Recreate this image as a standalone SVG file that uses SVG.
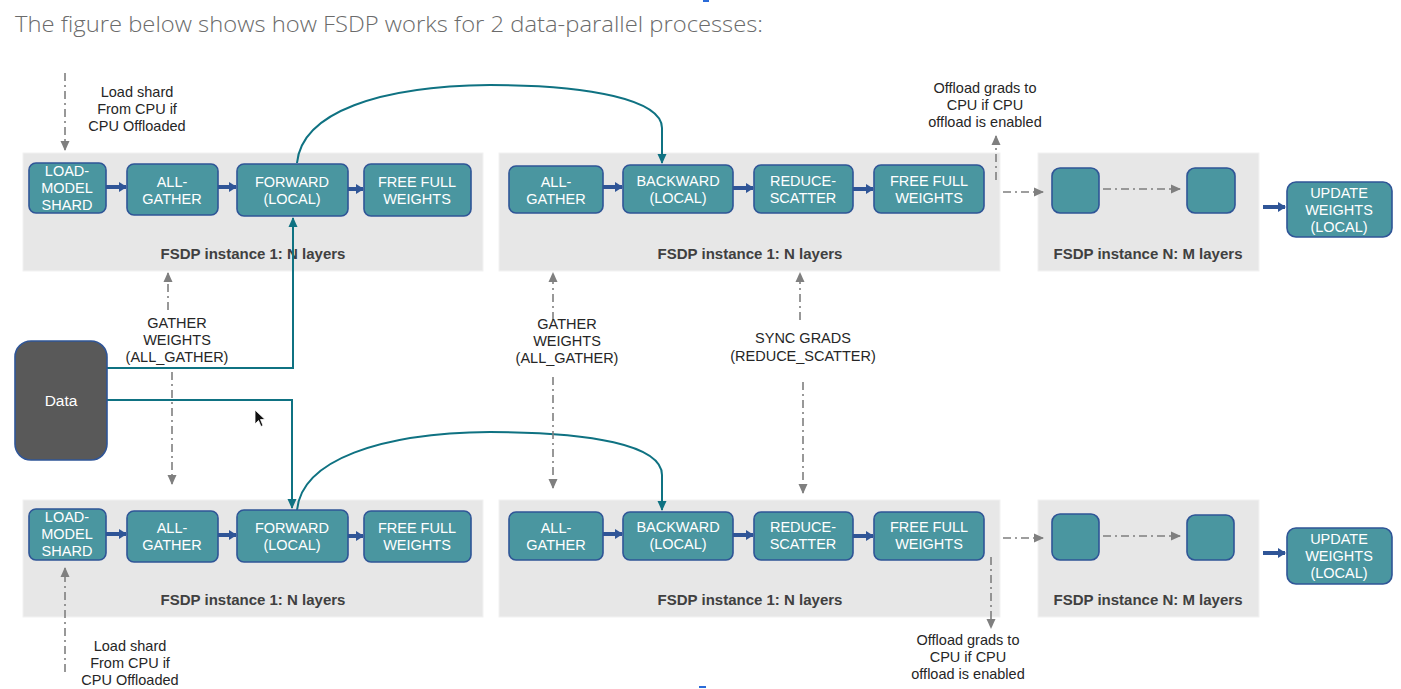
<svg xmlns="http://www.w3.org/2000/svg" width="1401" height="689" viewBox="0 0 1401 689">
<style>
.panel{fill:#e7e7e7;stroke:#f2f2f2;stroke-width:1}
.node rect{fill:#4a96a0;stroke:#2f5597;stroke-width:1.6}
.nt{font-family:"Liberation Sans",Arial,sans-serif;font-size:14.5px;fill:#ffffff;text-anchor:middle}
.pl{font-family:"Liberation Sans",Arial,sans-serif;font-size:15px;font-weight:bold;fill:#404040;text-anchor:middle}
.lbl{font-family:"Liberation Sans",Arial,sans-serif;font-size:14.5px;fill:#262626;text-anchor:middle}
.flow{stroke:#2f5597;stroke-width:4;fill:none}
.dd{stroke:#7f7f7f;stroke-width:1.6;fill:none;stroke-dasharray:8 4 2 4}
.teal{stroke:#0f7282;stroke-width:2;fill:none}
</style>
<defs>
<marker id="ab" markerUnits="userSpaceOnUse" markerWidth="10" markerHeight="12" refX="7" refY="6" orient="auto"><path d="M0,1 L8,6 L0,11 z" fill="#2f5597"/></marker>
<marker id="ag" markerUnits="userSpaceOnUse" markerWidth="10" markerHeight="10" refX="9" refY="5" orient="auto"><path d="M0,0.5 L10,5 L0,9.5 z" fill="#7f7f7f"/></marker>
<marker id="at" markerUnits="userSpaceOnUse" markerWidth="10" markerHeight="10" refX="9" refY="5" orient="auto"><path d="M0,0.5 L10,5 L0,9.5 z" fill="#0f7282"/></marker>
</defs>
<rect width="1401" height="689" fill="#ffffff"/>
<text x="15" y="32" font-family="'Open Sans','Noto Sans',sans-serif" font-size="22" font-weight="300" fill="#6b6b6b" textLength="748" lengthAdjust="spacingAndGlyphs">The figure below shows how FSDP works for 2 data-parallel processes:</text>
<rect x="703" y="0" width="6" height="2" fill="#2a6bd8"/>
<rect x="699" y="686" width="7" height="2" fill="#2a6bd8"/>

<g id="panels">
<rect class="panel" x="23" y="153" width="460" height="118"/>
<rect class="panel" x="499" y="153" width="501" height="118"/>
<rect class="panel" x="1038" y="153" width="221" height="118"/>
<rect class="panel" x="23" y="500" width="460" height="117"/>
<rect class="panel" x="499" y="500" width="501" height="117"/>
<rect class="panel" x="1038" y="500" width="221" height="117"/>
<text class="pl" x="253" y="259">FSDP instance 1: N layers</text>
<text class="pl" x="750" y="259">FSDP instance 1: N layers</text>
<text class="pl" x="1148" y="259">FSDP instance N: M layers</text>
<text class="pl" x="253" y="605">FSDP instance 1: N layers</text>
<text class="pl" x="750" y="605">FSDP instance 1: N layers</text>
<text class="pl" x="1148" y="605">FSDP instance N: M layers</text>
</g>

<g id="connectors">
<line class="flow" x1="106" y1="187" x2="126" y2="187" marker-end="url(#ab)"/>
<line class="flow" x1="218" y1="187" x2="236" y2="187" marker-end="url(#ab)"/>
<line class="flow" x1="348" y1="189" x2="363" y2="189" marker-end="url(#ab)"/>
<line class="flow" x1="603" y1="187" x2="622" y2="187" marker-end="url(#ab)"/>
<line class="flow" x1="733" y1="188" x2="753" y2="188" marker-end="url(#ab)"/>
<line class="flow" x1="853" y1="189" x2="873" y2="189" marker-end="url(#ab)"/>
<line class="flow" x1="1263" y1="207" x2="1285" y2="207" marker-end="url(#ab)"/>
<line class="flow" x1="106" y1="534" x2="126" y2="534" marker-end="url(#ab)"/>
<line class="flow" x1="218" y1="535" x2="236" y2="535" marker-end="url(#ab)"/>
<line class="flow" x1="348" y1="536" x2="363" y2="536" marker-end="url(#ab)"/>
<line class="flow" x1="603" y1="534" x2="622" y2="534" marker-end="url(#ab)"/>
<line class="flow" x1="733" y1="535" x2="753" y2="535" marker-end="url(#ab)"/>
<line class="flow" x1="853" y1="536" x2="873" y2="536" marker-end="url(#ab)"/>
<line class="flow" x1="1263" y1="553" x2="1285" y2="553" marker-end="url(#ab)"/>

<path class="teal" d="M297,163 C302,112 380,86 490,85 C590,85 662,100 662,128 L662,163" marker-end="url(#at)"/>
<path class="teal" d="M297,510 C302,460 380,433 490,432 C590,432 662,445 662,475 L662,510" marker-end="url(#at)"/>
<path class="teal" d="M107,368 L293,368 L293,218" marker-end="url(#at)"/>
<path class="teal" d="M107,400 L292,400 L292,508" marker-end="url(#at)"/>

<line class="dd" x1="65" y1="73" x2="65" y2="150" marker-end="url(#ag)"/>
<line class="dd" x1="65" y1="672" x2="65" y2="568" marker-end="url(#ag)"/>
<line class="dd" x1="168" y1="310" x2="168" y2="273" marker-end="url(#ag)"/>
<line class="dd" x1="172" y1="372" x2="172" y2="484" marker-end="url(#ag)"/>
<line class="dd" x1="553" y1="320" x2="553" y2="273" marker-end="url(#ag)"/>
<line class="dd" x1="553" y1="377" x2="553" y2="488" marker-end="url(#ag)"/>
<line class="dd" x1="800" y1="320" x2="800" y2="273" marker-end="url(#ag)"/>
<line class="dd" x1="803" y1="382" x2="803" y2="493" marker-end="url(#ag)"/>
<line class="dd" x1="996" y1="180" x2="996" y2="136" marker-end="url(#ag)"/>
<line class="dd" x1="991" y1="557" x2="991" y2="628" marker-end="url(#ag)"/>
<line class="dd" x1="1003" y1="192" x2="1043" y2="192" marker-end="url(#ag)"/>
<line class="dd" x1="1103" y1="189" x2="1180" y2="189" marker-end="url(#ag)"/>
<line class="dd" x1="1003" y1="538" x2="1043" y2="538" marker-end="url(#ag)"/>
<line class="dd" x1="1103" y1="536" x2="1180" y2="536" marker-end="url(#ag)"/>
</g>

<g id="labels">
<text class="lbl" x="137" y="97">Load shard</text>
<text class="lbl" x="137" y="114">From CPU if</text>
<text class="lbl" x="137" y="131">CPU Offloaded</text>
<text class="lbl" x="130" y="651">Load shard</text>
<text class="lbl" x="130" y="668">From CPU if</text>
<text class="lbl" x="130" y="685">CPU Offloaded</text>
<text class="lbl" x="177" y="328">GATHER</text>
<text class="lbl" x="177" y="345">WEIGHTS</text>
<text class="lbl" x="177" y="362">(ALL_GATHER)</text>
<text class="lbl" x="567" y="329">GATHER</text>
<text class="lbl" x="567" y="346">WEIGHTS</text>
<text class="lbl" x="567" y="363">(ALL_GATHER)</text>
<text class="lbl" x="803" y="343">SYNC GRADS</text>
<text class="lbl" x="803" y="361">(REDUCE_SCATTER)</text>
<text class="lbl" x="985" y="93">Offload grads to</text>
<text class="lbl" x="985" y="110">CPU if CPU</text>
<text class="lbl" x="985" y="127">offload is enabled</text>
<text class="lbl" x="968" y="645">Offload grads to</text>
<text class="lbl" x="968" y="662">CPU if CPU</text>
<text class="lbl" x="968" y="679">offload is enabled</text>
</g>

<g id="data" class="node">
<rect x="15" y="341" width="92" height="119" rx="16" style="fill:#595959;stroke:#2f5597"/>
<text class="nt" x="61" y="406" style="font-size:15.5px">Data</text>
</g>

<g id="t-load" class="node"><rect x="29" y="163" width="77" height="50" rx="7"/>
<text class="nt" x="67" y="176">LOAD-</text><text class="nt" x="67" y="193">MODEL</text><text class="nt" x="67" y="210">SHARD</text></g>
<g id="t-allgather" class="node"><rect x="127" y="164" width="91" height="51" rx="7"/>
<text class="nt" x="172" y="187">ALL-</text><text class="nt" x="172" y="204">GATHER</text></g>
<g id="t-forward" class="node"><rect x="237" y="164" width="111" height="52" rx="7"/>
<text class="nt" x="292" y="187">FORWARD</text><text class="nt" x="292" y="204">(LOCAL)</text></g>
<g id="t-free1" class="node"><rect x="364" y="164" width="107" height="52" rx="7"/>
<text class="nt" x="417" y="187">FREE FULL</text><text class="nt" x="417" y="204">WEIGHTS</text></g>
<g id="t-allgather2" class="node"><rect x="509" y="166" width="94" height="47" rx="7"/>
<text class="nt" x="556" y="187">ALL-</text><text class="nt" x="556" y="204">GATHER</text></g>
<g id="t-backward" class="node"><rect x="623" y="165" width="110" height="48" rx="7"/>
<text class="nt" x="678" y="186">BACKWARD</text><text class="nt" x="678" y="203">(LOCAL)</text></g>
<g id="t-reduce" class="node"><rect x="754" y="165" width="99" height="48" rx="7"/>
<text class="nt" x="803" y="186">REDUCE-</text><text class="nt" x="803" y="203">SCATTER</text></g>
<g id="t-free2" class="node"><rect x="874" y="165" width="110" height="48" rx="7"/>
<text class="nt" x="929" y="186">FREE FULL</text><text class="nt" x="929" y="203">WEIGHTS</text></g>
<g id="t-n1" class="node"><rect x="1052" y="168" width="47" height="45" rx="8"/></g>
<g id="t-n2" class="node"><rect x="1187" y="168" width="48" height="45" rx="8"/></g>
<g id="t-update" class="node"><rect x="1287" y="182" width="105" height="55" rx="9"/>
<text class="nt" x="1339" y="198">UPDATE</text><text class="nt" x="1339" y="215">WEIGHTS</text><text class="nt" x="1339" y="232">(LOCAL)</text></g>

<g id="b-load" class="node"><rect x="29" y="509" width="77" height="51" rx="7"/>
<text class="nt" x="67" y="522">LOAD-</text><text class="nt" x="67" y="539">MODEL</text><text class="nt" x="67" y="556">SHARD</text></g>
<g id="b-allgather" class="node"><rect x="127" y="511" width="91" height="51" rx="7"/>
<text class="nt" x="172" y="533">ALL-</text><text class="nt" x="172" y="550">GATHER</text></g>
<g id="b-forward" class="node"><rect x="237" y="510" width="111" height="52" rx="7"/>
<text class="nt" x="292" y="533">FORWARD</text><text class="nt" x="292" y="550">(LOCAL)</text></g>
<g id="b-free1" class="node"><rect x="364" y="511" width="107" height="51" rx="7"/>
<text class="nt" x="417" y="533">FREE FULL</text><text class="nt" x="417" y="550">WEIGHTS</text></g>
<g id="b-allgather2" class="node"><rect x="509" y="512" width="94" height="48" rx="7"/>
<text class="nt" x="556" y="533">ALL-</text><text class="nt" x="556" y="550">GATHER</text></g>
<g id="b-backward" class="node"><rect x="623" y="512" width="110" height="48" rx="7"/>
<text class="nt" x="678" y="532">BACKWARD</text><text class="nt" x="678" y="549">(LOCAL)</text></g>
<g id="b-reduce" class="node"><rect x="754" y="512" width="99" height="48" rx="7"/>
<text class="nt" x="803" y="532">REDUCE-</text><text class="nt" x="803" y="549">SCATTER</text></g>
<g id="b-free2" class="node"><rect x="874" y="512" width="110" height="48" rx="7"/>
<text class="nt" x="929" y="532">FREE FULL</text><text class="nt" x="929" y="549">WEIGHTS</text></g>
<g id="b-n1" class="node"><rect x="1052" y="514" width="47" height="46" rx="8"/></g>
<g id="b-n2" class="node"><rect x="1187" y="515" width="47" height="45" rx="8"/></g>
<g id="b-update" class="node"><rect x="1287" y="528" width="105" height="56" rx="9"/>
<text class="nt" x="1339" y="544">UPDATE</text><text class="nt" x="1339" y="561">WEIGHTS</text><text class="nt" x="1339" y="578">(LOCAL)</text></g>

<path d="M255,410 L255,424 L258.5,420.5 L261,426.5 L263,425.5 L260.5,419.5 L265,419.5 Z" fill="#111" stroke="#fff" stroke-width="0.8"/>
</svg>
